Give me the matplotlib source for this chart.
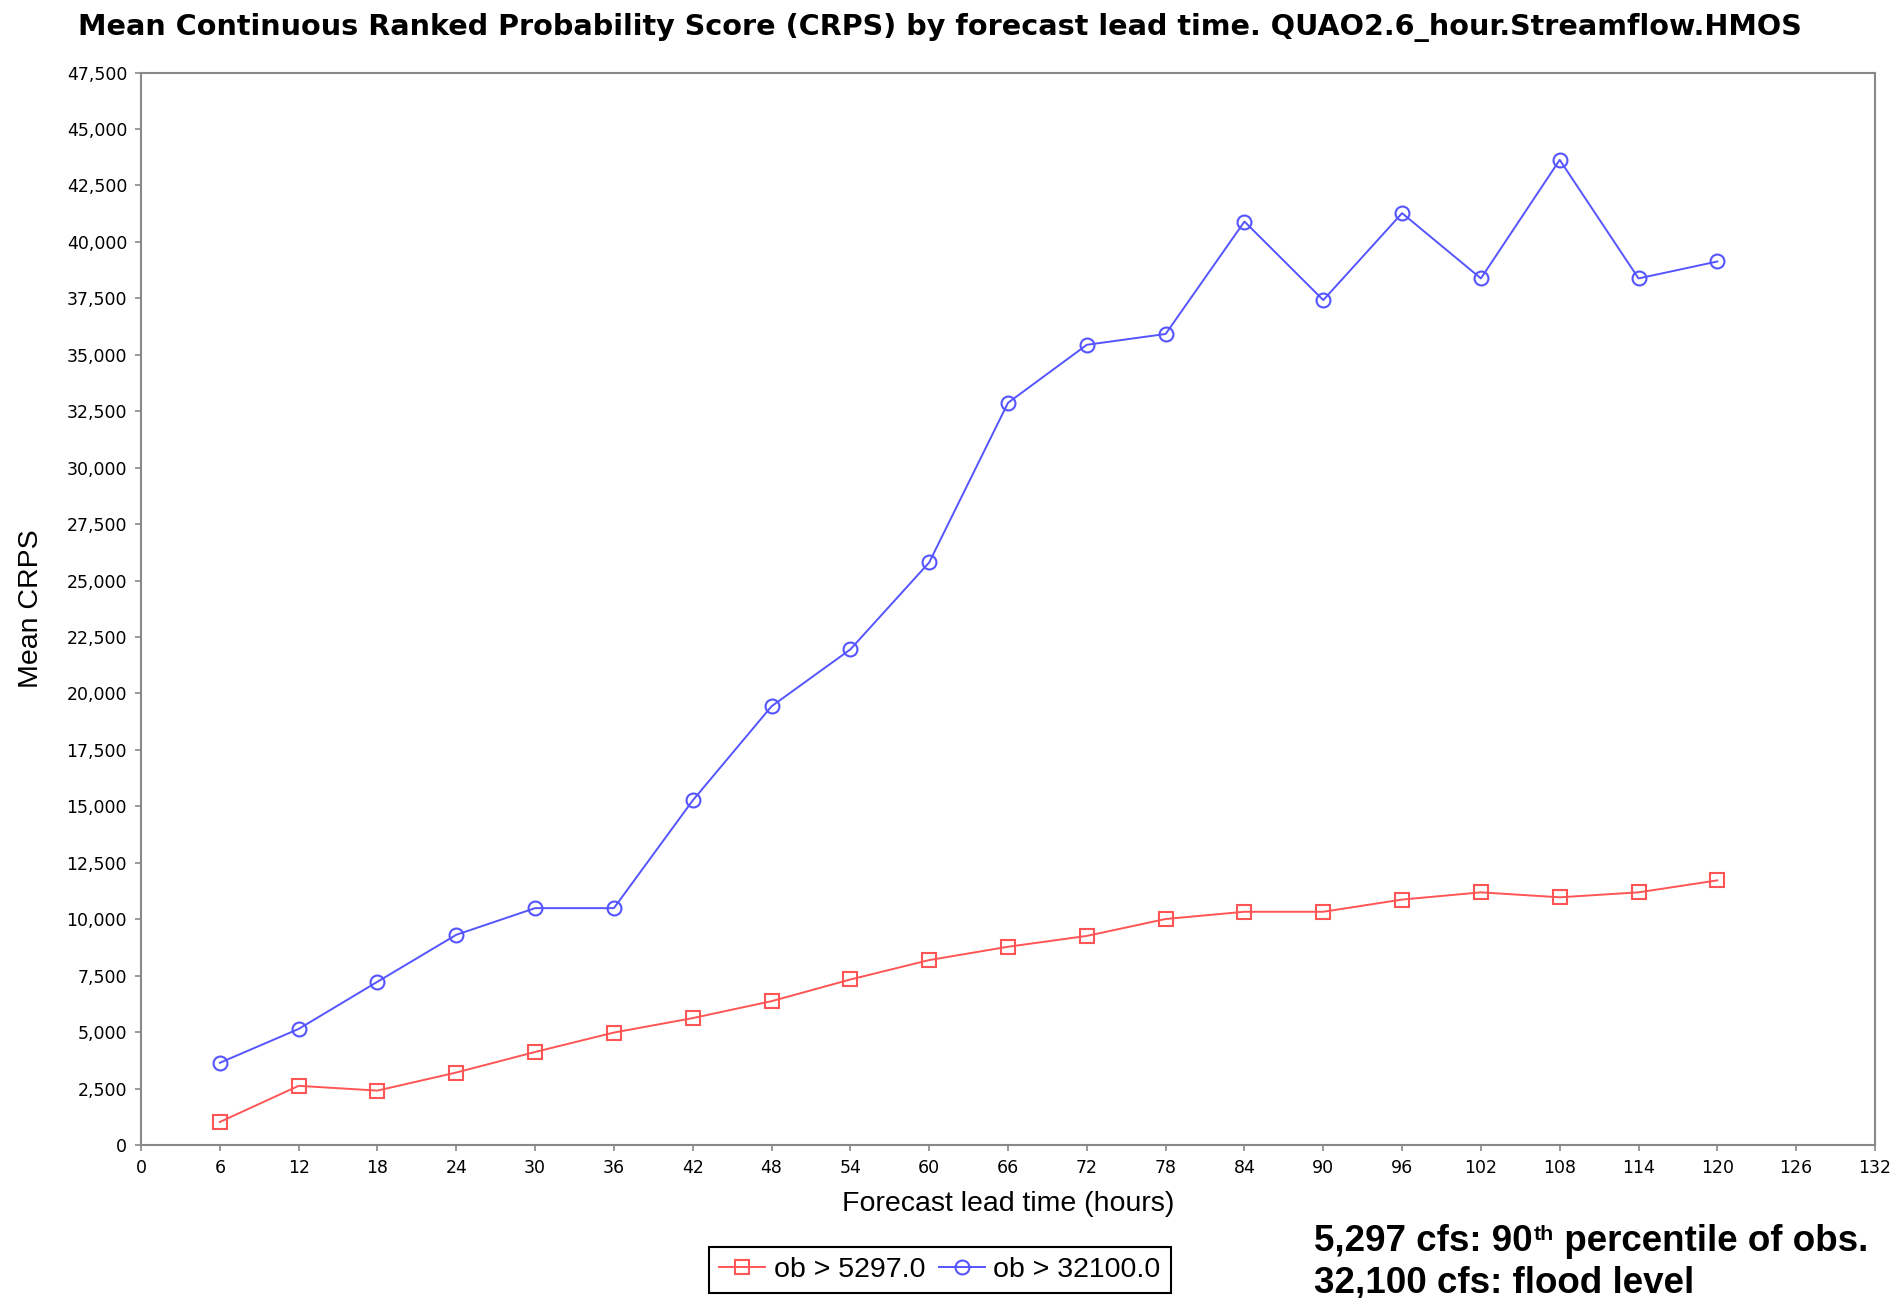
import matplotlib
matplotlib.use("Agg")
import matplotlib.pyplot as plt
from matplotlib.ticker import FuncFormatter, MultipleLocator

lead_hours = [6, 12, 18, 24, 30, 36, 42, 48, 54, 60, 66, 72, 78, 84, 90, 96, 102, 108, 114, 120]
crps_ob_5297 = [1020, 2620, 2410, 3210, 4120, 4980, 5620, 6370, 7330, 8190,
                8780, 9260, 10010, 10330, 10330, 10870, 11190, 10970, 11190, 11720]
crps_ob_32100 = [3640, 5140, 7230, 9310, 10490, 10490, 15260, 19430, 21950, 25800,
                 32870, 35440, 35920, 40900, 37420, 41270, 38380, 43630, 38380, 39130]
series_labels = ["ob > 5297.0", "ob > 32100.0"]
title = "Mean Continuous Ranked Probability Score (CRPS) by forecast lead time. QUAO2.6_hour.Streamflow.HMOS"
note1_parts = ["5,297 cfs: 90", "th", " percentile of obs."]
note2 = "32,100 cfs: flood level"

W, H = 1894, 1298
fig = plt.figure(figsize=(W / 100, H / 100), dpi=100)
ax = fig.add_axes([141 / W, 1 - 1145 / H, (1875 - 141) / W, (1145 - 72.5) / H])

red = "#FF5555"
blue = "#5555FF"
l1, = ax.plot(lead_hours, crps_ob_5297, color=red, lw=1.4, marker='s', ms=10.5,
              mfc='none', mec=red, mew=1.5, label=series_labels[0])
l2, = ax.plot(lead_hours, crps_ob_32100, color=blue, lw=1.4, marker='o', ms=10,
              mfc='none', mec=blue, mew=1.5, label=series_labels[1])

ax.set_xlim(0, 132)
ax.set_ylim(0, 47500)
ax.xaxis.set_major_locator(MultipleLocator(6))
ax.yaxis.set_major_locator(MultipleLocator(2500))
ax.yaxis.set_major_formatter(FuncFormatter(lambda v, p: f"{int(round(v)):,}"))

for s in ax.spines.values():
    s.set_color("#888888")
    s.set_linewidth(1.5)
ax.tick_params(axis='both', direction='out', length=4, width=1.2, color="#888888",
               labelsize=12.5, pad=6, labelcolor='black')
for lab in ax.get_xticklabels() + ax.get_yticklabels():
    lab.set_family('DejaVu Sans')

ax.set_xlabel("Forecast lead time (hours)", fontsize=20.5, family='Liberation Sans', labelpad=10)
ax.set_ylabel("Mean CRPS", fontsize=20.5, family='Liberation Sans')
ax.yaxis.set_label_coords(-0.056, 0.5)

fig.text(0.496, 1 - 27 / H, title, ha='center', va='center', fontsize=20.6,
         fontweight='bold', family='DejaVu Sans')

leg = fig.legend(handles=[l1, l2], loc='center', bbox_to_anchor=(940 / W, 1 - 1270 / H),
                 ncol=2, prop={'family': 'Liberation Sans', 'size': 20.5},
                 frameon=True, fancybox=False, framealpha=1, edgecolor='black',
                 handlelength=1.6, handletextpad=0.3, columnspacing=0.5, borderpad=0.35,
                 borderaxespad=0)
leg.get_frame().set_linewidth(1.5)

# annotation with a small superscript
fs = 26.5
renderer = fig.canvas.get_renderer()
x0 = 1314 / W
yb1 = 1 - 1251 / H
t1 = fig.text(x0, yb1, note1_parts[0], ha='left', va='baseline', fontsize=fs,
              fontweight='bold', family='Liberation Sans')
x1 = t1.get_window_extent(renderer).x1 / W
cap_top = yb1 + (0.72 * fs * 100 / 72) / H
t2 = fig.text(x1 + 1 / W, cap_top, note1_parts[1], ha='left', va='top', fontsize=fs * 0.58,
              fontweight='bold', family='Liberation Sans')
x2 = t2.get_window_extent(renderer).x1 / W
fig.text(x2, yb1, note1_parts[2], ha='left', va='baseline', fontsize=fs,
         fontweight='bold', family='Liberation Sans')
fig.text(x0, 1 - 1293 / H, note2, ha='left', va='baseline', fontsize=fs,
         fontweight='bold', family='Liberation Sans')

fig.savefig("out.png", dpi=100)
